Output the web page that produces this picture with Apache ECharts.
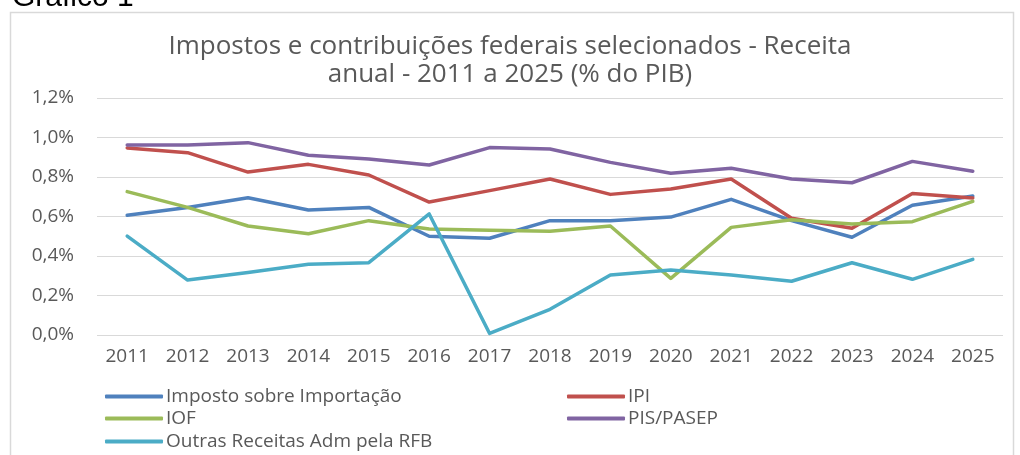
<!DOCTYPE html>
<html><head><meta charset="utf-8">
<script src="https://cdn.jsdelivr.net/npm/echarts@6/dist/echarts.min.js"></script>
<style>html,body{margin:0;padding:0;background:#fff}#c{width:1020px;height:455px}</style>
</head><body><div id="c"></div>
<script>
const categories = ['2011','2012','2013','2014','2015','2016','2017','2018','2019','2020','2021','2022','2023','2024','2025'];
const seriesNames = ['Imposto sobre Importação','IPI','IOF','PIS/PASEP','Outras Receitas Adm pela RFB'];
const importacao = [0.606,0.646,0.695,0.633,0.646,0.500,0.490,0.579,0.579,0.597,0.687,0.579,0.495,0.657,0.704];
const ipi        = [0.947,0.923,0.825,0.864,0.810,0.673,0.731,0.790,0.712,0.739,0.790,0.591,0.540,0.717,0.694];
const iof        = [0.726,0.646,0.552,0.513,0.579,0.537,0.530,0.525,0.552,0.287,0.545,0.584,0.562,0.574,0.677];
const pis        = [0.962,0.962,0.974,0.910,0.891,0.861,0.949,0.942,0.874,0.819,0.844,0.790,0.771,0.879,0.829];
const outras     = [0.501,0.278,0.317,0.358,0.366,0.613,0.008,0.130,0.304,0.329,0.304,0.272,0.366,0.282,0.383];
const titleLines = ['Impostos e contribuições federais selecionados - Receita','anual - 2011 a 2025 (% do PIB)'];
const colors = ['#4F81BD','#C0504D','#9BBB59','#8064A2','#4BACC6'];
const dataList = [importacao, ipi, iof, pis, outras];

const chart = echarts.init(document.getElementById('c'), null, {renderer:'canvas'});
const font = "'Open Sans', sans-serif";
const legendPos = [
  {left:100, top:382},{left:562, top:382},
  {left:100, top:404},{left:562, top:404},
  {left:100, top:427}
];
chart.setOption({
  animation:false,
  backgroundColor:'#fff',
  title:{text:titleLines.join('\n'), left:'center', top:28,
    textStyle:{fontFamily:font, fontSize:26, fontWeight:'normal', color:'#595959', lineHeight:28}},
  graphic:[
    {type:'rect', shape:{x:10.5,y:12.5,width:1003,height:460}, style:{fill:'none', stroke:'#d9d9d9', lineWidth:1.5}},
    {type:'text', x:12, y:13, style:{text:'Gráfico 1', font:"30px 'Liberation Sans', Arial", fill:'#000', verticalAlign:'bottom'}}
  ],
  legend: legendPos.map((p,i)=>({
    data:[seriesNames[i]], left:p.left, top:p.top, itemWidth:58, itemHeight:4, itemGap:4,
    icon:'roundRect',
    textStyle:{fontFamily:font, fontSize:19, color:'#595959', padding:[0,0,0,-2]}
  })),
  grid:{left:97, right:17, top:98, bottom:120},
  xAxis:{type:'category', data:categories, boundaryGap:true,
    axisLine:{show:false}, axisTick:{show:false},
    axisLabel:{fontFamily:font, fontSize:19, color:'#595959', margin:12}},
  yAxis:{type:'value', min:0, max:1.2, interval:0.2,
    axisLine:{show:false}, axisTick:{show:false},
    splitLine:{lineStyle:{color:'#d9d9d9', width:1}},
    axisLabel:{fontFamily:font, fontSize:19, color:'#595959', margin:23,
      formatter:v=>v.toFixed(1).replace('.',',')+'%'}},
  series: seriesNames.map((n,i)=>({
    name:n, type:'line', data:dataList[i], symbol:'none', smooth:false,
    lineStyle:{color:colors[i], width:3.5, cap:'round', join:'round'},
    itemStyle:{color:colors[i]}
  }))
});
</script></body></html>
